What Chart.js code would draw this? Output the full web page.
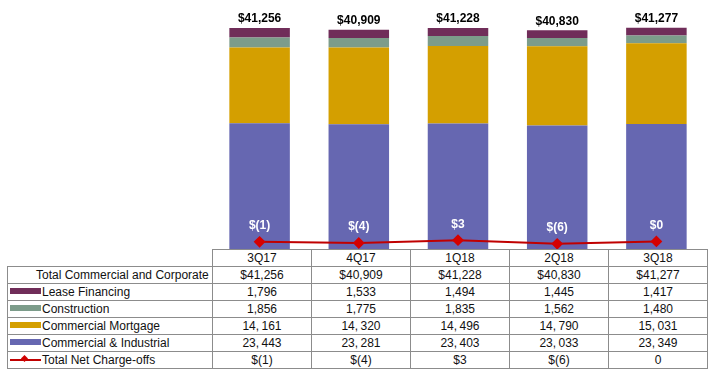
<!DOCTYPE html>
<html>
<head>
<meta charset="utf-8">
<script src="https://cdn.jsdelivr.net/npm/chart.js@4.4.0/dist/chart.umd.min.js"></script>
<style>
  body { margin: 0; background: #fff; font-family: "Liberation Sans", Arial, sans-serif; }
  #wrap { position: relative; width: 715px; height: 375px; }
  #chartBox { position: absolute; left: 210px; top: 0; width: 496px; height: 249px; }
  #chartBox canvas { display: block; }
  table { position: absolute; left: 7px; top: 249px; border-collapse: collapse; font-size: 12px; color: #111; }
  td { border: 1px solid #8c8c8c; height: 16px; padding: 0; text-align: center; width: 98px; line-height: 15px; }
  td.lbl { width: 202px; text-align: left; padding-left: 2px; white-space: nowrap; }
  td.blank { border: none; border-right: 1px solid #8c8c8c; }
  .sw { display: inline-block; width: 31px; height: 6px; vertical-align: middle; margin-right: 1px; margin-top: -2px; }
  .ln { display: inline-block; position: relative; width: 31px; height: 9px; vertical-align: middle; margin-right: 1px; margin-top: -2px; }
  .ln:before { content: ""; position: absolute; left: 0; right: 0; top: 4px; height: 2px; background: #c00000; }
  .ln:after { content: ""; position: absolute; left: 12px; top: 1px; width: 5px; height: 5px; background: #d00000; transform: rotate(45deg); }
</style>
</head>
<body>
<div id="wrap">
  <div id="chartBox"><canvas id="grafico"></canvas></div>
  <table id="tabela"></table>
</div>
<script>
// dados
const quarters = ['3Q17', '4Q17', '1Q18', '2Q18', '3Q18'];
const totals = [41256, 40909, 41228, 40830, 41277];
const leaseFinancing = [1796, 1533, 1494, 1445, 1417];
const construction = [1856, 1775, 1835, 1562, 1480];
const commercialMortgage = [14161, 14320, 14496, 14790, 15031];
const commercialIndustrial = [23443, 23281, 23403, 23033, 23349];
const netChargeOffs = [-1, -4, 3, -6, 0];
const totalLabels = ['$41,256', '$40,909', '$41,228', '$40,830', '$41,277'];
const chargeOffLabels = ['$(1)', '$(4)', '$3', '$(6)', '$0'];
const chargeOffTableLabels = ['$(1)', '$(4)', '$3', '$(6)', '0'];

const colors = {
    lease: '#702d59',
    construction: '#7c9c8a',
    mortgage: '#d49f00',
    ci: '#6667b1',
    line: '#c00000'
};

function fmt(n) {
    // números de 5 dígitos aparecem com um pequeno espaço após a vírgula
    const s = n.toLocaleString('en-US');
    return n >= 10000 ? s.replace(',', ',\u2009') : s;
}

// tabela
function buildTable() {
    const t = document.getElementById('tabela');
    let html = '<tr><td class="lbl blank"></td>' + quarters.map(q => '<td>' + q + '</td>').join('') + '</tr>';
    html += '<tr><td class="lbl" style="padding-left:28px;width:176px">Total Commercial and Corporate</td>' +
        totalLabels.map(v => '<td>' + v + '</td>').join('') + '</tr>';
    const rows = [
        ['Lease Financing', leaseFinancing, colors.lease],
        ['Construction', construction, colors.construction],
        ['Commercial Mortgage', commercialMortgage, colors.mortgage],
        ['Commercial & Industrial', commercialIndustrial, colors.ci]
    ];
    rows.forEach(r => {
        html += '<tr><td class="lbl"><span class="sw" style="background:' + r[2] + '"></span>' + r[0] + '</td>' +
            r[1].map(v => '<td>' + fmt(v) + '</td>').join('') + '</tr>';
    });
    html += '<tr><td class="lbl"><span class="ln"></span>Total Net Charge-offs</td>' +
        chargeOffTableLabels.map(v => '<td>' + v + '</td>').join('') + '</tr>';
    t.innerHTML = html;
}
buildTable();

// rótulos sobre as barras e a linha
const labelPlugin = {
    id: 'labelPlugin',
    afterDatasetsDraw(chart) {
        const ctx = chart.ctx;
        ctx.save();
        ctx.textAlign = 'center';
        ctx.font = 'bold 12px "Liberation Sans", Arial, sans-serif';
        const barMeta = chart.getDatasetMeta(0);
        const y = chart.scales.y;
        barMeta.data.forEach((bar, i) => {
            ctx.fillStyle = '#000';
            ctx.textBaseline = 'bottom';
            ctx.fillText(totalLabels[i], bar.x, y.getPixelForValue(totals[i]) - 3);
        });
        const lineMeta = chart.getDatasetMeta(4);
        lineMeta.data.forEach((pt, i) => {
            ctx.fillStyle = '#fff';
            ctx.textBaseline = 'middle';
            ctx.fillText(chargeOffLabels[i], pt.x, pt.y - 16);
        });
        ctx.restore();
    }
};

const ctx = document.getElementById('grafico').getContext('2d');
new Chart(ctx, {
    type: 'bar',
    data: {
        labels: quarters,
        datasets: [
            { label: 'Commercial & Industrial', data: commercialIndustrial, backgroundColor: colors.ci, stack: 's', order: 2 },
            { label: 'Commercial Mortgage', data: commercialMortgage, backgroundColor: colors.mortgage, stack: 's', order: 2 },
            { label: 'Construction', data: construction, backgroundColor: colors.construction, stack: 's', order: 2 },
            { label: 'Lease Financing', data: leaseFinancing, backgroundColor: colors.lease, stack: 's', order: 2 },
            {
                type: 'line', label: 'Total Net Charge-offs', data: netChargeOffs, yAxisID: 'y2',
                borderColor: colors.line, borderWidth: 2, pointStyle: 'rectRot', pointRadius: 4.5,
                pointBackgroundColor: '#d50000', pointBorderColor: '#d50000', order: 0
            }
        ]
    },
    options: {
        responsive: true,
        maintainAspectRatio: false,
        animation: false,
        layout: { autoPadding: false, padding: { top: 10, left: 0, right: 0, bottom: 0 } },
        datasets: { bar: { barPercentage: 0.61, categoryPercentage: 1.0 } },
        plugins: { legend: { display: false }, tooltip: { enabled: false } },
        scales: {
            x: { stacked: true, display: false },
            y: { stacked: true, display: false, min: 0, max: 44600 },
            y2: { display: false, min: -19, max: 578 }
        }
    },
    plugins: [labelPlugin]
});
</script>
</body>
</html>
